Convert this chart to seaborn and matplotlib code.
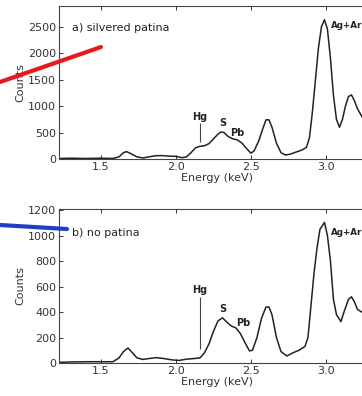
"""EDS spectra of a silvered and an unpatinated surface, two stacked panels."""

import pandas as pd
from matplotlib import pyplot as plt
from matplotlib.lines import Line2D
import seaborn as sns

# panel a) silvered patina
energy_a = [1.22, 1.30, 1.40, 1.50, 1.58, 1.62, 1.65, 1.67, 1.70, 1.74,
            1.78, 1.82, 1.86, 1.90, 1.95, 2.00, 2.04, 2.07, 2.10, 2.13,
            2.16, 2.19, 2.22, 2.25, 2.28, 2.30, 2.32, 2.35, 2.38, 2.41,
            2.44, 2.47, 2.50, 2.52, 2.55, 2.58, 2.60, 2.62, 2.64, 2.67,
            2.70, 2.73, 2.76, 2.80, 2.84, 2.87, 2.89, 2.91, 2.93, 2.95,
            2.97, 2.99, 3.01, 3.03, 3.05, 3.07, 3.09, 3.11, 3.13, 3.15,
            3.17, 3.19, 3.21, 3.23, 3.26, 3.30, 3.33]
counts_a = [10, 15, 10, 15, 10, 40, 120, 140, 100, 40,
            20, 40, 60, 65, 55, 50, 25, 40, 120, 210,
            240, 250, 290, 380, 470, 510, 500, 420, 380, 360,
            300, 200, 110, 150, 330, 580, 740, 740, 600, 300,
            120, 75, 90, 130, 170, 220, 400, 900, 1500, 2100,
            2500, 2630, 2450, 1900, 1200, 750, 600, 750, 1000, 1180,
            1210, 1100, 950, 850, 700, 500, 420]

# panel b) no patina
energy_b = [1.22, 1.30, 1.40, 1.50, 1.58, 1.62, 1.65, 1.68, 1.71, 1.74,
            1.78, 1.82, 1.87, 1.92, 1.97, 2.02, 2.07, 2.12, 2.16, 2.19,
            2.22, 2.25, 2.28, 2.31, 2.34, 2.37, 2.40, 2.43, 2.46, 2.49,
            2.51, 2.54, 2.57, 2.60, 2.62, 2.64, 2.67, 2.70, 2.74, 2.78,
            2.82, 2.86, 2.88, 2.90, 2.92, 2.94, 2.96, 2.99, 3.01, 3.03,
            3.05, 3.07, 3.10, 3.12, 3.15, 3.17, 3.19, 3.21, 3.24, 3.28,
            3.33]
counts_b = [5, 8, 10, 10, 10, 40, 90, 118, 80, 40,
            28, 35, 42, 35, 25, 20, 30, 35, 40, 80,
            150, 250, 330, 355, 320, 290, 275, 230, 160, 95,
            100, 200, 350, 440, 440, 380, 200, 90, 55, 80,
            100, 130, 200, 450, 700, 900, 1050, 1105, 1000, 800,
            500, 380, 325, 400, 500, 520, 480, 420, 400, 350,
            300]

# element labels: (text, energy, counts)
labels_a = [("Hg", 2.16, 790), ("S", 2.31, 680), ("Pb", 2.41, 490)]
labels_b = [("Hg", 2.16, 577), ("S", 2.31, 427), ("Pb", 2.45, 316)]

sns.set_style("ticks")
plt.rcParams['font.family'] = ['DejaVu Sans']
plt.rcParams['xtick.direction'] = 'in'
plt.rcParams['ytick.direction'] = 'in'
plt.rcParams['xtick.top'] = True
plt.rcParams['ytick.right'] = True

fig = plt.figure(figsize=(3.62, 3.96), dpi=100)
ax_a = fig.add_axes([59 / 362, 1 - 159 / 396, 316 / 362, 153 / 396])
ax_b = fig.add_axes([59 / 362, 1 - 363 / 396, 316 / 362, 154 / 396])

panels = [
    (ax_a, energy_a, counts_a, labels_a, "a) silvered patina", 2890,
     range(0, 2501, 500), (320, 680), 2475, 2530),
    (ax_b, energy_b, counts_b, labels_b, "b) no patina", 1210,
     range(0, 1201, 200), (110, 515), 1019, 1027),
]

for ax, e, c, labels, title, ymax, yticks, hg_line, title_y, agar_y in panels:
    df = pd.DataFrame({"Energy": e, "Counts": c})
    sns.lineplot(data=df, x="Energy", y="Counts", ax=ax, color="#222222",
                 linewidth=1.1)
    ax.set_xlim(1.22, 3.327)
    ax.set_ylim(0, ymax)
    ax.set_xticks([1.5, 2.0, 2.5, 3.0])
    ax.set_yticks(list(yticks))
    ax.tick_params(labelsize=8, length=3, width=0.7, colors="#333333",
                   pad=2)
    for s in ax.spines.values():
        s.set_linewidth(0.8)
        s.set_color("#444444")
    ax.set_xlabel("Energy (keV)", fontsize=8, labelpad=1, color="#333333")
    ax.set_ylabel("Counts", fontsize=8, labelpad=2, color="#333333")
    ax.text(1.31, title_y, title, fontsize=8, va="center", color="#222222")
    ax.vlines(2.16, hg_line[0], hg_line[1], color="#444444", linewidth=0.8)
    for txt, x, y in labels:
        ax.text(x, y, txt, fontsize=7, fontweight="bold", ha="center",
                va="center", color="#222222")
    ax.text(3.03, agar_y, "Ag+Ar", fontsize=6.3, fontweight="bold",
            va="center", color="#222222")

# coloured pointer lines coming in from the left
fig.add_artist(Line2D([0, 101 / 362], [1 - 82 / 396, 1 - 47 / 396],
                      color="#e8191c", linewidth=3))
fig.add_artist(Line2D([0, 67 / 362], [1 - 225 / 396, 1 - 229 / 396],
                      color="#1f3fc8", linewidth=3))

fig.savefig("out.png", dpi=100)
